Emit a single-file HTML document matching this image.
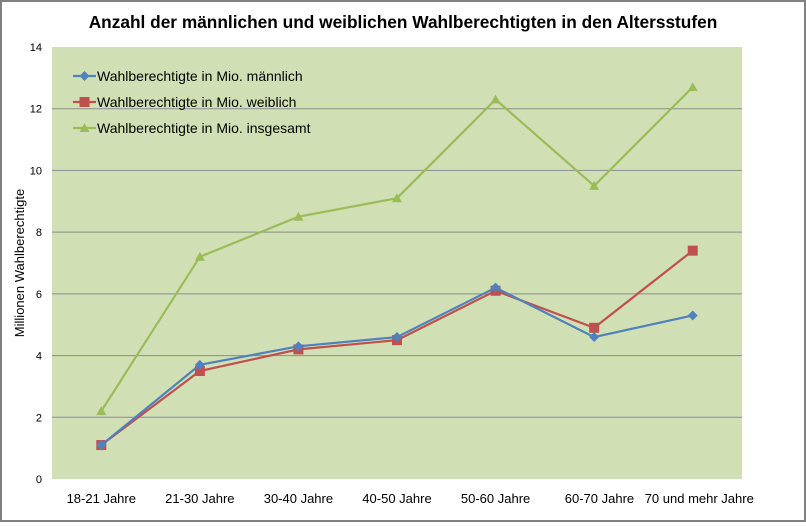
<!DOCTYPE html>
<html><head><meta charset="utf-8"><style>
body{margin:0;background:#fff;}
svg text{font-family:"Liberation Sans",sans-serif;}
</style></head><body>
<svg width="806" height="522" viewBox="0 0 806 522" xmlns="http://www.w3.org/2000/svg">
<rect x="1" y="1" width="804" height="520" fill="#fff" stroke="#808080" stroke-width="2"/>
<text x="403" y="28" text-anchor="middle" font-size="17.3" font-weight="bold" fill="#000">Anzahl der männlichen und weiblichen Wahlberechtigten in den Altersstufen</text>
<rect x="52" y="47" width="690" height="432" fill="#d0e0b4"/>
<g id="grid"></g>
<g id="yticks"></g>
<g id="xticks"></g>
<text transform="translate(24,263) rotate(-90)" text-anchor="middle" font-size="13" fill="#000">Millionen Wahlberechtigte</text>
<g id="series"></g>
<g id="legend"></g>
</svg>
<script>
const categories=["18-21 Jahre","21-30 Jahre","30-40 Jahre","40-50 Jahre","50-60 Jahre","60-70 Jahre","70 und mehr Jahre"];
const male=[1.1,3.7,4.3,4.6,6.2,4.6,5.3];
const female=[1.1,3.5,4.2,4.5,6.1,4.9,7.4];
const total=[2.2,7.2,8.5,9.1,12.3,9.5,12.7];
const yTicks=[0,2,4,6,8,10,12,14];
const NS="http://www.w3.org/2000/svg";
const L=52,R=742,T=47,B=479,YMAX=14;
const y=v=>B-(v/YMAX)*(B-T);
const x=i=>L+(i+0.5)*(R-L)/categories.length;
function mk(tag,attrs,parent){const e=document.createElementNS(NS,tag);for(const k in attrs)e.setAttribute(k,attrs[k]);parent.appendChild(e);return e;}
const grid=document.getElementById('grid'),yt=document.getElementById('yticks'),xt=document.getElementById('xticks');
yTicks.forEach(v=>{
  if(v>0&&v<YMAX){const g=mk('line',{x1:L,x2:R,y1:y(v),y2:y(v),stroke:'#8c8c8c','stroke-width':1},grid);
  
  }
  const t=mk('text',{x:42,y:y(v)+4,'text-anchor':'end','font-size':11,fill:'#000'},yt);t.textContent=v;
  
  
});
categories.forEach((c,i)=>{
  let xx=x(i),anchor='middle';
  if(i===5){xx=x(i)+40;anchor='end';}
  if(i===6){xx=x(i)-48;anchor='start';}
  const t=mk('text',{x:xx,y:503,'text-anchor':anchor,'font-size':13,fill:'#000'},xt);t.textContent=c;
  
  
});
const ser=document.getElementById('series');
function marker(type,cx,cy,col,p,name){let m;
  if(type==='diamond')m=mk('polygon',{points:`${cx},${cy-5} ${cx+5},${cy} ${cx},${cy+5} ${cx-5},${cy}`,fill:col},p);
  else if(type==='square')m=mk('rect',{x:cx-5,y:cy-5,width:10,height:10,fill:col},p);
  else m=mk('polygon',{points:`${cx},${cy-5} ${cx+5},${cy+4} ${cx-5},${cy+4}`,fill:col},p);
  
  
}
function draw(vals,col,type,name){
  const g=mk('g',{},ser);
  
  
  const pl=mk('polyline',{points:vals.map((v,i)=>x(i)+','+y(v)).join(' '),fill:'none',stroke:col,'stroke-width':2.2},g);
  
  
  vals.forEach((v,i)=>marker(type,x(i),y(v),col,g,name+'-point'));
}
draw(total,'#9bbb59','triangle','total');
draw(female,'#c0504d','square','female');
draw(male,'#4f81bd','diamond','male');
const leg=document.getElementById('legend');
[["Wahlberechtigte in Mio. männlich",'#4f81bd','diamond','male'],["Wahlberechtigte in Mio. weiblich",'#c0504d','square','female'],["Wahlberechtigte in Mio. insgesamt",'#9bbb59','triangle','total']].forEach((d,i)=>{
  const cy=76+i*26;
  const g=mk('g',{},leg);
  
  
  mk('line',{x1:73,x2:96,y1:cy,y2:cy,stroke:d[1],'stroke-width':2.2},g);
  marker(d[2],84.5,cy,d[1],g,'legend-marker');
  const t=mk('text',{x:97,y:cy+5,'font-size':14,fill:'#000'},g);t.textContent=d[0];
});
</script>
</body></html>
